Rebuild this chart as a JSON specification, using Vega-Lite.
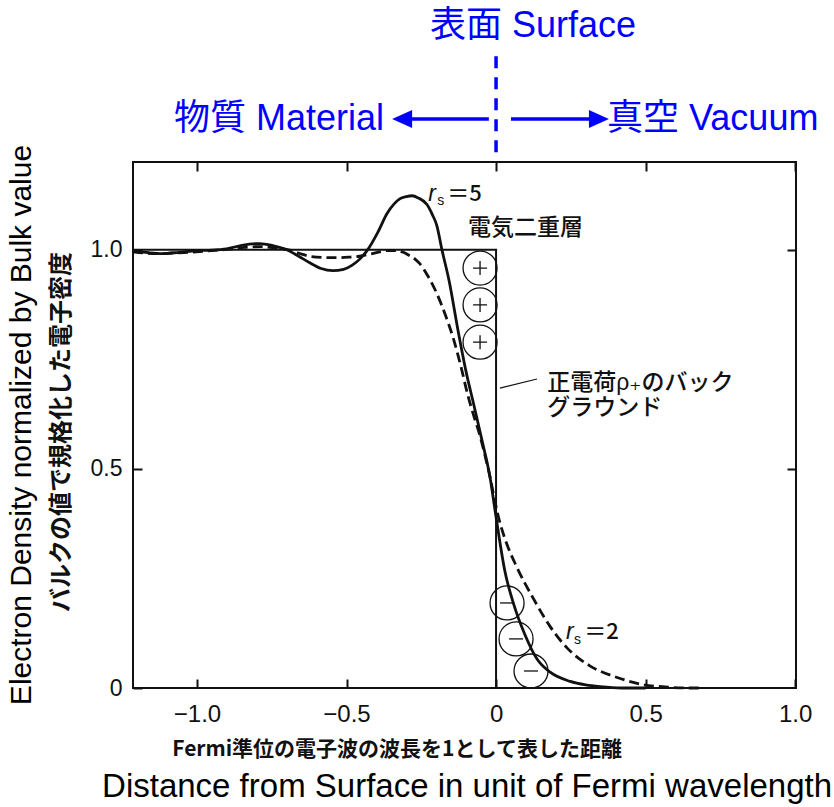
{
  "$schema": "https://vega.github.io/schema/vega-lite/v6.json",
  "width": 663,
  "height": 526,
  "autosize": {"type": "none"},
  "padding": {"left": 133, "top": 162, "right": 38, "bottom": 119},
  "background": "white",
  "config": {
    "view": {"stroke": "#111", "strokeWidth": 2},
    "font": "Liberation Sans"
  },
  "datasets": {
    "rs5": [
      {"x": -1.214, "y": 0.998}, {"x": -1.16, "y": 0.993}, {"x": -1.116, "y": 0.991},
      {"x": -1.06, "y": 0.994}, {"x": -1.002, "y": 0.998}, {"x": -0.95, "y": 0.999},
      {"x": -0.901, "y": 1.002}, {"x": -0.85, "y": 1.01}, {"x": -0.791, "y": 1.014},
      {"x": -0.745, "y": 1.009}, {"x": -0.7, "y": 1.0}, {"x": -0.66, "y": 0.985},
      {"x": -0.623, "y": 0.97}, {"x": -0.585, "y": 0.957}, {"x": -0.546, "y": 0.952},
      {"x": -0.51, "y": 0.955}, {"x": -0.482, "y": 0.964}, {"x": -0.455, "y": 0.979},
      {"x": -0.429, "y": 1.0}, {"x": -0.395, "y": 1.04}, {"x": -0.365, "y": 1.082},
      {"x": -0.34, "y": 1.105}, {"x": -0.322, "y": 1.116}, {"x": -0.3, "y": 1.121},
      {"x": -0.281, "y": 1.123}, {"x": -0.26, "y": 1.118}, {"x": -0.231, "y": 1.103},
      {"x": -0.213, "y": 1.08}, {"x": -0.198, "y": 1.055}, {"x": -0.181, "y": 1.0},
      {"x": -0.157, "y": 0.929}, {"x": -0.127, "y": 0.815}, {"x": -0.101, "y": 0.724},
      {"x": -0.074, "y": 0.645}, {"x": -0.047, "y": 0.565}, {"x": -0.02, "y": 0.48},
      {"x": 0.0, "y": 0.39}, {"x": 0.03, "y": 0.265}, {"x": 0.06, "y": 0.189},
      {"x": 0.097, "y": 0.121}, {"x": 0.137, "y": 0.066}, {"x": 0.181, "y": 0.036},
      {"x": 0.248, "y": 0.015}, {"x": 0.3, "y": 0.007}, {"x": 0.348, "y": 0.003},
      {"x": 0.42, "y": 0.0}, {"x": 0.5, "y": 0.0}
    ],
    "rs2": [
      {"x": -1.214, "y": 0.995}, {"x": -1.17, "y": 0.992}, {"x": -1.126, "y": 0.991},
      {"x": -1.06, "y": 0.993}, {"x": -1.002, "y": 0.995}, {"x": -0.95, "y": 0.998},
      {"x": -0.891, "y": 1.001}, {"x": -0.84, "y": 1.005}, {"x": -0.791, "y": 1.007},
      {"x": -0.74, "y": 1.004}, {"x": -0.69, "y": 0.999}, {"x": -0.65, "y": 0.99},
      {"x": -0.623, "y": 0.985}, {"x": -0.57, "y": 0.982}, {"x": -0.523, "y": 0.982},
      {"x": -0.49, "y": 0.983}, {"x": -0.456, "y": 0.985}, {"x": -0.42, "y": 0.99},
      {"x": -0.389, "y": 0.995}, {"x": -0.36, "y": 0.998}, {"x": -0.332, "y": 0.998},
      {"x": -0.31, "y": 0.994}, {"x": -0.288, "y": 0.986}, {"x": -0.27, "y": 0.978},
      {"x": -0.255, "y": 0.968}, {"x": -0.228, "y": 0.94}, {"x": -0.198, "y": 0.9},
      {"x": -0.17, "y": 0.852}, {"x": -0.144, "y": 0.8}, {"x": -0.118, "y": 0.735},
      {"x": -0.094, "y": 0.667}, {"x": -0.074, "y": 0.62}, {"x": -0.054, "y": 0.576},
      {"x": -0.035, "y": 0.525}, {"x": -0.02, "y": 0.481}, {"x": -0.005, "y": 0.43},
      {"x": 0.01, "y": 0.385}, {"x": 0.03, "y": 0.34}, {"x": 0.07, "y": 0.275},
      {"x": 0.124, "y": 0.205}, {"x": 0.181, "y": 0.14}, {"x": 0.238, "y": 0.091},
      {"x": 0.315, "y": 0.05}, {"x": 0.405, "y": 0.024}, {"x": 0.482, "y": 0.009},
      {"x": 0.573, "y": 0.002}, {"x": 0.65, "y": 0.0}, {"x": 0.683, "y": 0.0}
    ],
    "jellium": [
      {"x": -1.214, "y": 1.0, "k": 0},
      {"x": 0.0, "y": 1.0, "k": 1},
      {"x": 0.0, "y": 0.0, "k": 2}
    ],
    "charges": [
      {"x": -0.0535, "y": 0.958, "sign": "+"},
      {"x": -0.0535, "y": 0.874, "sign": "+"},
      {"x": -0.0535, "y": 0.789, "sign": "+"},
      {"x": 0.0368, "y": 0.194, "sign": "-"},
      {"x": 0.0669, "y": 0.112, "sign": "-"},
      {"x": 0.117, "y": 0.0388, "sign": "-"}
    ],
    "guides": [
      {"x": 0.0, "x2": 0.0, "y": 1.222, "y2": 1.456, "role": "surface"},
      {"x": -0.024, "x2": -0.29, "y": 1.298, "y2": 1.298, "role": "arrow"},
      {"x": 0.05, "x2": 0.32, "y": 1.298, "y2": 1.298, "role": "arrow"},
      {"x": 0.013, "x2": 0.137, "y": 0.684, "y2": 0.705, "role": "leader"}
    ],
    "heads": [
      {"x": -0.314, "y": 1.298, "dir": "left"},
      {"x": 0.344, "y": 1.298, "dir": "right"}
    ],
    "labels": [
      {"label": "表面 Surface", "x": -0.221, "y": 1.51, "role": "blue"},
      {"label": "物質 Material", "x": -1.077, "y": 1.298, "role": "blue"},
      {"label": "真空 Vacuum", "x": 0.371, "y": 1.298, "role": "blue"},
      {"label": "Fermi準位の電子波の波長を1として表した距離", "x": -0.331, "y": -0.1415, "role": "xjp"},
      {"label": "Distance from Surface in unit of Fermi wavelength", "x": -0.097, "y": -0.226, "role": "xen"},
      {"label": "Electron Density normalized by Bulk value", "x": -1.585, "y": 0.6, "role": "yen"},
      {"label": "バルクの値で規格化した電子密度", "x": -1.452, "y": 0.584, "role": "yjp"},
      {"label": "電気二重層", "x": -0.094, "y": 1.05, "role": "jp"},
      {"label": "正電荷ρ₊のバック", "x": 0.171, "y": 0.696, "role": "jp"},
      {"label": "グラウンド", "x": 0.171, "y": 0.639, "role": "jp"},
      {"label": "r", "x": -0.227, "y": 1.111, "role": "r"},
      {"label": "s", "x": -0.197, "y": 1.102, "role": "s"},
      {"label": "＝5", "x": -0.163, "y": 1.111, "role": "eq"},
      {"label": "r", "x": 0.234, "y": 0.112, "role": "r"},
      {"label": "s", "x": 0.261, "y": 0.1, "role": "s"},
      {"label": "＝2", "x": 0.295, "y": 0.112, "role": "eq"}
    ]
  },
  "encoding": {
    "x": {"field": "x", "type": "quantitative", "scale": {"domain": [-1.214, 1.003], "nice": false, "zero": false}, "axis": null},
    "y": {"field": "y", "type": "quantitative", "scale": {"domain": [0, 1.2], "nice": false, "zero": false}, "axis": null}
  },
  "layer": [
    {
      "data": {"name": "jellium"},
      "mark": {"type": "line", "color": "#111", "strokeWidth": 2},
      "encoding": {"order": {"field": "k", "type": "quantitative"}}
    },
    {
      "data": {"name": "rs5"},
      "mark": {"type": "line", "color": "#111", "strokeWidth": 2.8, "interpolate": "monotone"},
      "encoding": {
        "x": {
          "field": "x", "type": "quantitative",
          "scale": {"domain": [-1.214, 1.003], "nice": false, "zero": false},
          "axis": {
            "orient": "bottom", "values": [-1, -0.5, 0, 0.5, 1],
            "labelExpr": "datum.value == 0 ? '0' : format(datum.value, '.1f')",
            "tickSize": -9, "tickWidth": 2, "tickColor": "#111",
            "domain": false, "grid": false, "title": null,
            "labelFont": "Liberation Sans", "labelFontSize": 24, "labelColor": "#111",
            "labelPadding": 23, "labelFlush": false, "labelOverlap": false
          }
        },
        "y": {
          "field": "y", "type": "quantitative",
          "scale": {"domain": [0, 1.2], "nice": false, "zero": false},
          "axis": {
            "orient": "left", "values": [0, 0.5, 1],
            "labelExpr": "datum.value == 0 ? '0' : format(datum.value, '.1f')",
            "tickSize": -9, "tickWidth": 2, "tickColor": "#111",
            "domain": false, "grid": false, "title": null,
            "labelFont": "Liberation Sans", "labelFontSize": 23, "labelColor": "#111",
            "labelPadding": 20, "labelFlush": false, "labelOverlap": false
          }
        }
      }
    },
    {
      "data": {"name": "rs2"},
      "mark": {"type": "line", "color": "#111", "strokeWidth": 2.8, "strokeDash": [10, 5], "interpolate": "monotone"},
      "encoding": {
        "x": {
          "field": "x", "type": "quantitative",
          "scale": {"domain": [-1.214, 1.003], "nice": false, "zero": false},
          "axis": {
            "orient": "top", "values": [-1, -0.5, 0, 0.5, 1], "labels": false,
            "tickSize": -9, "tickWidth": 2, "tickColor": "#111",
            "domain": false, "grid": false, "title": null
          }
        },
        "y": {
          "field": "y", "type": "quantitative",
          "scale": {"domain": [0, 1.2], "nice": false, "zero": false},
          "axis": {
            "orient": "right", "values": [0.5, 1], "labels": false,
            "tickSize": -9, "tickWidth": 2, "tickColor": "#111",
            "domain": false, "grid": false, "title": null
          }
        }
      }
    },
    {
      "data": {"name": "charges"},
      "mark": {"type": "point", "shape": "circle", "size": 1156, "filled": false, "stroke": "#111", "strokeWidth": 1.3, "opacity": 1}
    },
    {
      "data": {"name": "charges"},
      "transform": [{"filter": "datum.sign == '+'"}],
      "mark": {"type": "point", "shape": "M-1,0H1M0,-1V1", "size": 196, "filled": false, "stroke": "#111", "strokeWidth": 1.3, "opacity": 1}
    },
    {
      "data": {"name": "charges"},
      "transform": [{"filter": "datum.sign == '-'"}],
      "mark": {"type": "point", "shape": "M-1,0H1", "size": 196, "filled": false, "stroke": "#111", "strokeWidth": 1.3, "opacity": 1}
    },
    {
      "data": {"name": "guides"},
      "transform": [{"filter": "datum.role == 'surface'"}],
      "mark": {"type": "rule", "color": "#0000ff", "strokeWidth": 3.5, "strokeDash": [12, 9]},
      "encoding": {
        "x2": {"field": "x2"},
        "y2": {"field": "y2"}
      }
    },
    {
      "data": {"name": "guides"},
      "transform": [{"filter": "datum.role == 'arrow'"}],
      "mark": {"type": "rule", "color": "#0000ff", "strokeWidth": 3.5},
      "encoding": {
        "x2": {"field": "x2"},
        "y2": {"field": "y2"}
      }
    },
    {
      "data": {"name": "guides"},
      "transform": [{"filter": "datum.role == 'leader'"}],
      "mark": {"type": "rule", "color": "#111", "strokeWidth": 1.2},
      "encoding": {
        "x2": {"field": "x2"},
        "y2": {"field": "y2"}
      }
    },
    {
      "data": {"name": "heads"},
      "transform": [{"filter": "datum.dir == 'left'"}],
      "mark": {"type": "point", "shape": "M-1,0L1,-0.9L1,0.9Z", "size": 400, "filled": true, "color": "#0000ff", "opacity": 1}
    },
    {
      "data": {"name": "heads"},
      "transform": [{"filter": "datum.dir == 'right'"}],
      "mark": {"type": "point", "shape": "M1,0L-1,-0.9L-1,0.9Z", "size": 400, "filled": true, "color": "#0000ff", "opacity": 1}
    },
    {
      "data": {"name": "labels"},
      "transform": [{"filter": "datum.role == 'blue'"}],
      "mark": {"type": "text", "align": "left", "baseline": "middle", "font": "Liberation Sans, Noto Sans CJK JP", "fontSize": 36, "color": "#0000ff"},
      "encoding": {"text": {"field": "label"}}
    },
    {
      "data": {"name": "labels"},
      "transform": [{"filter": "datum.role == 'xjp'"}],
      "mark": {"type": "text", "align": "center", "baseline": "middle", "font": "Noto Sans CJK JP", "fontWeight": "bold", "fontSize": 21, "color": "#111"},
      "encoding": {"text": {"field": "label"}}
    },
    {
      "data": {"name": "labels"},
      "transform": [{"filter": "datum.role == 'xen'"}],
      "mark": {"type": "text", "align": "center", "baseline": "middle", "font": "Liberation Sans", "fontSize": 33, "color": "#000"},
      "encoding": {"text": {"field": "label"}}
    },
    {
      "data": {"name": "labels"},
      "transform": [{"filter": "datum.role == 'yen'"}],
      "mark": {"type": "text", "align": "center", "baseline": "middle", "angle": 270, "font": "Liberation Sans", "fontSize": 30, "color": "#000"},
      "encoding": {"text": {"field": "label"}}
    },
    {
      "data": {"name": "labels"},
      "transform": [{"filter": "datum.role == 'yjp'"}],
      "mark": {"type": "text", "align": "center", "baseline": "middle", "angle": 270, "font": "Noto Sans CJK JP", "fontWeight": "bold", "fontSize": 24, "color": "#111"},
      "encoding": {"text": {"field": "label"}}
    },
    {
      "data": {"name": "labels"},
      "transform": [{"filter": "datum.role == 'jp'"}],
      "mark": {"type": "text", "align": "left", "baseline": "middle", "font": "Liberation Sans, Noto Sans CJK JP, DejaVu Sans", "fontWeight": 500, "fontSize": 23, "color": "#111"},
      "encoding": {"text": {"field": "label"}}
    },
    {
      "data": {"name": "labels"},
      "transform": [{"filter": "datum.role == 'r'"}],
      "mark": {"type": "text", "align": "left", "baseline": "alphabetic", "font": "Liberation Sans", "fontStyle": "italic", "fontSize": 23, "color": "#111"},
      "encoding": {"text": {"field": "label"}}
    },
    {
      "data": {"name": "labels"},
      "transform": [{"filter": "datum.role == 's'"}],
      "mark": {"type": "text", "align": "left", "baseline": "alphabetic", "font": "Liberation Sans", "fontSize": 14, "color": "#111"},
      "encoding": {"text": {"field": "label"}}
    },
    {
      "data": {"name": "labels"},
      "transform": [{"filter": "datum.role == 'eq'"}],
      "mark": {"type": "text", "align": "left", "baseline": "alphabetic", "font": "Noto Sans CJK JP", "fontWeight": 500, "fontSize": 22, "color": "#111"},
      "encoding": {"text": {"field": "label"}}
    }
  ],
  "resolve": {"axis": {"x": "independent", "y": "independent"}}
}
